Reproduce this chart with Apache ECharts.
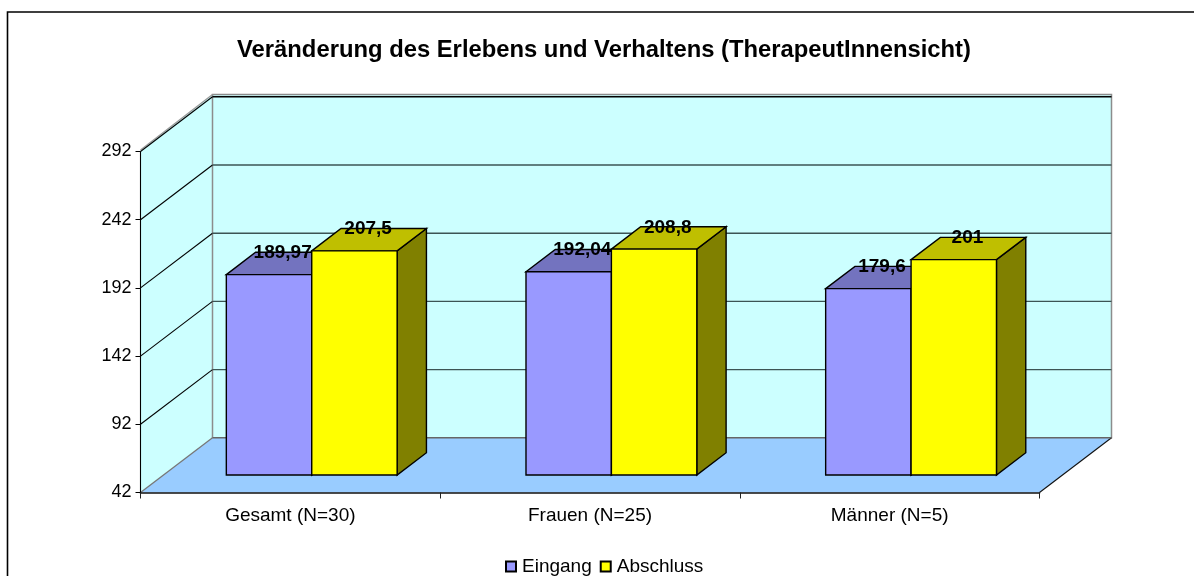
<!DOCTYPE html>
<html><head><meta charset="utf-8">
<style>html,body{margin:0;padding:0;background:#fff}#c{width:1194px;height:576px}</style>
<script src="https://cdn.jsdelivr.net/npm/echarts@6/dist/echarts.min.js"></script>
</head><body><div id="c"></div>
<script>
const categories = ['Gesamt (N=30)', 'Frauen (N=25)', 'Männer (N=5)'];
const eingang = [189.97, 192.04, 179.6];
const abschluss = [207.5, 208.8, 201];
const tickValues = [42, 92, 142, 192, 242, 292];
const labelsEingang = ['189,97', '192,04', '179,6'];
const labelsAbschluss = ['207,5', '208,8', '201'];

const FONT = '"Liberation Sans", Arial, sans-serif';
const WALL_DX = 72, WALL_DY = -54.7;
const BAR_DX = 29.3, BAR_DY = -22.3;
const FLOOR_X = 21.4, FLOOR_Y = -17.5;
const DEPTH_SCALE = 0.993;

function poly(points, fill, stroke, lw) {
  return {type: 'polygon', shape: {points}, style: {fill, stroke: stroke || 'none', lineWidth: lw || 1}};
}
function seg(x1, y1, x2, y2, stroke, lw) {
  return {type: 'line', shape: {x1, y1, x2, y2}, style: {stroke, lineWidth: lw || 1}};
}

function wallItem(params, api) {
  const cs = params.coordSys;
  const y = api.coord([0, api.value(1)])[1];
  const l = cs.x, r = cs.x + cs.width, t = cs.y, b = cs.y + cs.height;
  const ch = [];
  if (params.dataIndex === 0) {
    ch.push(poly([[l, b], [l + WALL_DX, b + WALL_DY], [l + WALL_DX, t + WALL_DY - 2.2], [l, t - 1]], '#ccffff'));
    ch.push(poly([[l + WALL_DX, b + WALL_DY], [r + WALL_DX, b + WALL_DY], [r + WALL_DX, t + WALL_DY - 2.2], [l + WALL_DX, t + WALL_DY - 2.2]], '#ccffff', '#8c8c8c', 1.5));
    ch.push(poly([[l, b], [r, b], [r + WALL_DX, b + WALL_DY], [l + WALL_DX, b + WALL_DY]], '#99ccff'));
    ch.push(seg(l, b, l + WALL_DX, b + WALL_DY, '#777', 1.3));
    ch.push(seg(r, b, r + WALL_DX, b + WALL_DY, '#111', 1.1));
    ch.push(seg(l + WALL_DX, b + WALL_DY, r + WALL_DX, b + WALL_DY, '#666', 1.6));
    ch.push(seg(l, t - 1.5, l + WALL_DX, t + WALL_DY - 2.2, '#999', 1.2));
  } else {
    ch.push(seg(l, y, l + WALL_DX, y + WALL_DY, '#000', 1.1));
    ch.push(seg(l + WALL_DX, y + WALL_DY, r + WALL_DX, y + WALL_DY, params.dataIndex === tickValues.length - 1 ? '#000' : '#3c5454', 1.4));
  }
  return {type: 'group', children: ch};
}

function barRenderer(slot, front, top, side, labels) {
  return function (params, api) {
    const idx = api.value(0);
    const p = api.coord([idx, api.value(1)]);
    const base = api.coord([idx, tickValues[0]]);
    const w = api.size([1, 0])[0] * 0.285;
    const x0 = p[0] + FLOOR_X + (slot - 1) * w, x1 = x0 + w;
    const yB = base[1] + FLOOR_Y, yT = yB - (base[1] - p[1]) * DEPTH_SCALE;
    const pts = {
      top: [[x0, yT], [x1, yT], [x1 + BAR_DX, yT + BAR_DY], [x0 + BAR_DX, yT + BAR_DY]],
      side: [[x1, yT], [x1 + BAR_DX, yT + BAR_DY], [x1 + BAR_DX, yB + BAR_DY], [x1, yB]],
      front: [[x0, yT], [x1, yT], [x1, yB], [x0, yB]]
    };
    return {type: 'group', children: [
      poly(pts.side, side, '#000', 1.4),
      poly(pts.top, top, '#000', 1.4),
      poly(pts.front, front, '#000', 1.4),
      {type: 'text', z2: 50, style: {
        text: labels[idx], x: x0 + w / 2 + BAR_DX / 2 - 1, y: yT + BAR_DY + 0.5,
        align: 'center', verticalAlign: 'middle',
        font: 'bold 19px ' + FONT, fill: '#000'
      }}
    ]};
  };
}
const toData = vals => vals.map((v, i) => [i, v]);

const chart = echarts.init(document.getElementById('c'), null, {renderer: 'canvas'});
chart.setOption({
  animation: false,
  backgroundColor: '#fff',
  title: {
    text: 'Veränderung des Erlebens und Verhaltens (TherapeutInnensicht)',
    left: 599, top: 33, textAlign: 'center',
    textStyle: {fontFamily: FONT, fontSize: 23.8, fontWeight: 'bold', color: '#000'}
  },
  legend: {
    left: 500, top: 552, itemWidth: 10, itemHeight: 10, itemGap: 8,
    icon: 'rect',
    textStyle: {fontFamily: FONT, fontSize: 19, color: '#000', padding: [0, 0, 0, 1]},
    data: ['Eingang', 'Abschluss']
  },
  grid: {left: 140.5, top: 151.5, width: 899, height: 341, containLabel: false},
  xAxis: {
    type: 'category', data: categories, z: 1,
    axisLine: {lineStyle: {color: '#111', width: 1.6}},
    axisTick: {show: true, alignWithLabel: false, length: 6, lineStyle: {color: '#222'}},
    axisLabel: {fontFamily: FONT, fontSize: 19, color: '#000', margin: 14},
    splitLine: {show: false}
  },
  yAxis: {
    type: 'value', min: 42, max: 292, z: 1,
    axisLine: {show: true, lineStyle: {color: '#000', width: 1.1}},
    axisTick: {show: true, length: 5, customValues: tickValues, lineStyle: {color: '#000'}},
    axisLabel: {fontFamily: FONT, fontSize: 18, color: '#000', margin: 9, padding: [4, 0, 0, 0], customValues: tickValues, formatter: v => String(v)},
    splitLine: {show: false}
  },
  graphic: [{
    type: 'polyline', silent: true, z: -1,
    shape: {points: [[7.5, 576], [7.5, 12], [1194, 12]]},
    style: {fill: 'none', stroke: '#000', lineWidth: 1.6}
  }],
  series: [
    {name: 'walls', type: 'custom', z: 0, clip: false, silent: true, data: tickValues.map(t => [0, t]), encode: {x: 0, y: 1}, renderItem: wallItem},
    {name: 'Eingang', type: 'custom', z: 2, clip: false, data: toData(eingang), encode: {x: 0, y: 1}, itemStyle: {color: '#9999ff', borderColor: '#000', borderWidth: 1}, renderItem: barRenderer(0, '#9999ff', '#7373bf', '#4d4d80', labelsEingang)},
    {name: 'Abschluss', type: 'custom', z: 3, clip: false, data: toData(abschluss), encode: {x: 0, y: 1}, itemStyle: {color: '#ffff00', borderColor: '#000', borderWidth: 1}, renderItem: barRenderer(1, '#ffff00', '#bfbf00', '#808000', labelsAbschluss)}
  ]
});
</script></body></html>
